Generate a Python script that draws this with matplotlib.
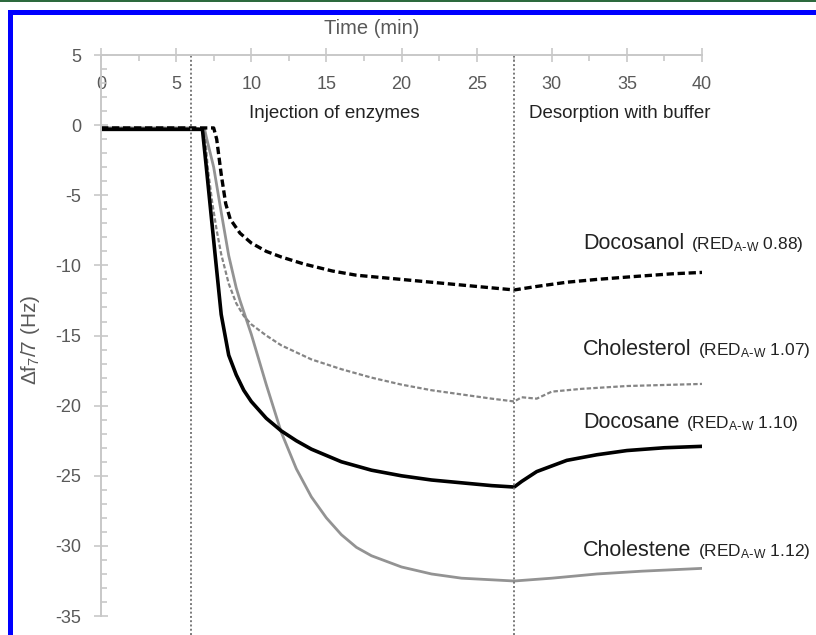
import matplotlib
matplotlib.use('Agg')
import matplotlib.pyplot as plt
from matplotlib.patches import Rectangle

plt.rcParams['font.family'] = ['Liberation Sans', 'DejaVu Sans']
plt.rcParams['mathtext.default'] = 'regular'
plt.rcParams['axes.unicode_minus'] = False

# Docosane (black solid)
t_docosane = [0, 2, 4, 6, 6.75, 7.0, 7.3, 7.6, 8.0, 8.5, 9.0, 9.5, 10, 11, 12, 13, 14, 16, 18,
              20, 22, 24, 26, 27.5, 28, 29, 30, 31, 33, 35, 37.5, 40]
v_docosane = [-0.3, -0.3, -0.3, -0.3, -0.3, -2.9, -6.1, -9.3, -13.5, -16.4, -17.8, -18.9, -19.7,
              -20.9, -21.8, -22.5, -23.1, -24.0, -24.6, -25.0, -25.3, -25.5, -25.7, -25.8,
              -25.4, -24.7, -24.3, -23.9, -23.5, -23.2, -23.0, -22.9]

# Cholestene (grey solid)
t_cholestene = [0, 2, 4, 6, 6.9, 7.0, 7.5, 8.0, 8.5, 9.0, 9.25, 10, 11, 12, 13, 14, 15, 16, 17,
                18, 20, 22, 24, 27.5, 30, 33, 36, 40]
v_cholestene = [-0.2, -0.2, -0.2, -0.2, -0.3, -0.8, -3.0, -6.2, -9.3, -11.6, -12.5, -14.9, -18.5,
                -21.9, -24.5, -26.5, -28.0, -29.2, -30.1, -30.7, -31.5, -32.0, -32.3, -32.5,
                -32.3, -32.0, -31.8, -31.6]

# Cholesterol (grey dashed)
t_cholesterol = [0, 2, 4, 6, 6.9, 7.1, 7.4, 7.7, 8.0, 8.5, 9.0, 9.5, 10, 11, 12, 14, 16, 18, 20,
                 22, 24, 26, 27.5, 28, 29, 30, 32, 35, 40]
v_cholesterol = [-0.2, -0.2, -0.2, -0.2, -0.3, -3.0, -5.5, -7.5, -9.2, -11.3, -12.7, -13.6, -14.2,
                 -15.0, -15.7, -16.7, -17.4, -18.0, -18.5, -18.9, -19.2, -19.5, -19.7, -19.4,
                 -19.5, -19.0, -18.8, -18.6, -18.45]

# Docosanol (black dashed)
t_docosanol = [0, 2, 4, 6, 7.5, 7.7, 8.0, 8.3, 8.6, 9.25, 10, 11, 12, 13.5, 15.4, 17, 19, 21, 23,
               25, 27.5, 29, 31, 33, 35.4, 38, 40]
v_docosanol = [-0.2, -0.2, -0.2, -0.2, -0.2, -1.0, -3.5, -5.6, -6.7, -7.7, -8.4, -9.0, -9.4, -9.9,
               -10.4, -10.7, -10.9, -11.1, -11.3, -11.5, -11.75, -11.5, -11.2, -11.0, -10.8,
               -10.6, -10.5]

t_injection = 6
t_desorption = 27.5

labels = ['Docosanol', 'Cholesterol', 'Docosane', 'Cholestene']
red_values = ['0.88', '1.07', '1.10', '1.12']
label_y = [-8.8, -16.4, -21.6, -30.7]

fig = plt.figure(figsize=(8.16, 6.35), dpi=100)
ax = fig.add_axes([101 / 816, 0, 601 / 816, 1 - 55 / 635])

ax.plot(t_cholestene, v_cholestene, color='#939393', lw=2.0)
ax.plot(t_cholesterol, v_cholesterol, color='#858585', lw=1.6, ls=(0, (2, 1)))
ax.plot(t_docosane, v_docosane, color='black', lw=2.6)
ax.plot(t_docosanol, v_docosanol, color='black', lw=2.4, ls=(0, (2.2, 1.1)))

for tv in [t_injection, t_desorption]:
    ax.axvline(tv, color='#7a7a7a', lw=1.4, ls=(0, (1, 1.2)))

ax.set_xlim(0, 40)
ax.set_ylim(-36.35, 5)

for s in ['top', 'right']:
    ax.spines[s].set_visible(False)
ax.spines['bottom'].set_position(('data', 5))
ax.spines['bottom'].set_bounds(0, 40)
ax.spines['left'].set_position(('data', 0))
ax.spines['left'].set_bounds(-35, 5)
for s in ['bottom', 'left']:
    ax.spines[s].set_color('#c8c8c8')
    ax.spines[s].set_linewidth(1.4)

ax.set_xticks(range(0, 41, 5))
ax.set_xticks([2.5 + 5 * i for i in range(8)], minor=True)
ax.set_yticks(range(-35, 6, 5))
ax.set_yticks([v for v in range(-35, 6) if v % 5 != 0], minor=True)
ax.tick_params(axis='x', which='major', direction='inout', length=10, width=1.2,
               color='#c8c8c8', labelsize=13, labelcolor='#595959', pad=10)
ax.tick_params(axis='x', which='minor', direction='out', length=4, width=1.2, color='#c8c8c8')
ax.tick_params(axis='y', which='major', direction='inout', length=10, width=1.2,
               color='#c8c8c8', labelsize=13, labelcolor='#595959', pad=9)
ax.tick_params(axis='y', which='minor', direction='in', length=4, width=1.2, color='#c8c8c8')
ax.patch.set_visible(False)

ax.text(18.0, 6.9, 'Time (min)', ha='center', va='center', fontsize=14.5, color='#595959',
        clip_on=False)
fig.text(30 / 816, 1 - 340 / 635, 'Δf$_7$/7 (Hz)', rotation=90, ha='center', va='center',
         fontsize=15, color='#595959')

ax.text(9.85, 0.85, 'Injection of enzymes', ha='left', va='center', fontsize=13.5,
        color='#222222')
ax.text(28.5, 0.85, 'Desorption with buffer', ha='left', va='center', fontsize=13.5,
        color='#222222')

fig.canvas.draw()
for name, red, y in zip(labels, red_values, label_y):
    t1 = ax.text(32.1, y, name, ha='left', va='baseline', fontsize=15.5, color='#222222',
                 clip_on=False)
    bb = t1.get_window_extent(renderer=fig.canvas.get_renderer())
    x2 = ax.transData.inverted().transform((bb.x1 + 6, 0))[0]
    ax.text(x2, y, '(RED$_{A\\text{-}W}$ ' + red + ')', ha='left', va='baseline',
            fontsize=12.5, color='#222222', clip_on=False)

# frame of the page
fig.add_artist(Rectangle((8 / 816, 0), 5 / 816, 1 - 10 / 635, transform=fig.transFigure,
                         color='#0000ff', lw=0))
fig.add_artist(Rectangle((8 / 816, 1 - 15 / 635), 1, 5 / 635, transform=fig.transFigure,
                         color='#0000ff', lw=0))
fig.add_artist(Rectangle((0, 1 - 1.5 / 635), 1, 1.5 / 635, transform=fig.transFigure,
                         color='#2d6a3e', lw=0))

fig.savefig('out.png', dpi=100)
